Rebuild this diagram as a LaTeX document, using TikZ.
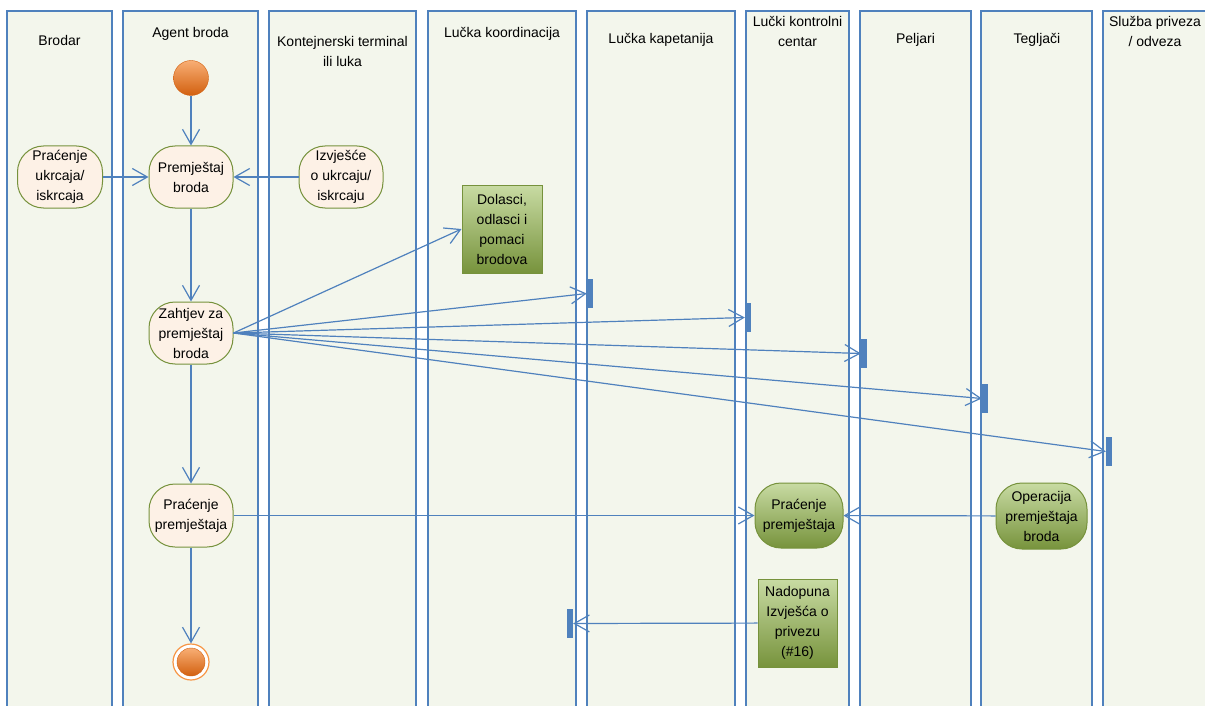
\documentclass[tikz,border=0pt]{standalone}
\usepackage{fontspec}
\setmainfont{Liberation Sans}
\usetikzlibrary{arrows.meta}
\definecolor{laneblue}{HTML}{4F81BD}
\definecolor{lanefill}{HTML}{F3F6EC}
\definecolor{peach}{HTML}{FDF1E6}
\definecolor{olive}{HTML}{76923C}
\definecolor{lightgreen}{HTML}{C8DBA3}
\definecolor{darkgreen}{HTML}{77933C}
\definecolor{lightorange}{HTML}{F8AE74}
\definecolor{darkorange}{HTML}{D2600F}
\definecolor{ringorange}{HTML}{F79646}
\begin{document}
\begin{tikzpicture}[x=1pt, y=-1pt,
    every node/.style={inner sep=0pt, text centered, font=\fontsize{14}{20}\selectfont},
    lane/.style={draw=laneblue, fill=lanefill, line width=1.2pt},
    title/.style={align=center},
    activity/.style={draw=olive, fill=peach, line width=1pt, rounded corners=26pt, align=center},
    greenactivity/.style={activity, top color=lightgreen, bottom color=darkgreen},
    object/.style={draw=olive, top color=lightgreen, bottom color=darkgreen, line width=1pt, align=center, minimum width=80pt, minimum height=88pt},
    state/.style={circle, draw=darkorange, top color=lightorange, bottom color=darkorange},
    bar/.style={fill=laneblue, minimum width=6pt, minimum height=29pt},
    flow/.style={draw=laneblue, line width=1.2pt, -{Straight Barb[length=15pt, width=17pt]}}]
\useasboundingbox (0,0) rectangle (1205,706);
\clip (0,0) rectangle (1205,706);

\draw[lane] (7,11) rectangle (112,720);
\draw[lane] (123,11) rectangle (258,720);
\draw[lane] (269,11) rectangle (416,720);
\draw[lane] (428,11) rectangle (576,720);
\draw[lane] (587,11) rectangle (735,720);
\draw[lane] (746,11) rectangle (849,720);
\draw[lane] (860,11) rectangle (971,720);
\draw[lane] (981,11) rectangle (1092,720);
\draw[lane] (1103,11) rectangle (1215,720);

\node[title] (tBrodar) at (59.5,40) {Brodar};
\node[title] (tAgent) at (190.5,34) {Agent broda};
\node[title] (tTerminal) at (342.5,51) {Kontejnerski terminal\\ili luka};
\node[title] (tKoord) at (502,34) {Lučka koordinacija};
\node[title] (tKap) at (661,40) {Lučka kapetanija};
\node[title] (tLkc) at (797.5,31) {Lučki kontrolni\\centar};
\node[title] (tPeljari) at (915.5,40) {Peljari};
\node[title] (tTegljaci) at (1037,40) {Tegljači};
\node[title] (tPrivez) at (1155,31) {Služba priveza\\/ odveza};

\node[state, minimum size=35pt] (start) at (191,78) {};
\node[activity, minimum width=85pt, minimum height=62pt] (pracenjeUkrcaja) at (60,177) {Praćenje\\ukrcaja/\\iskrcaja};
\node[activity, minimum width=84pt, minimum height=62pt] (premjestaj) at (191,177) {Premještaj\\broda};
\node[activity, minimum width=84pt, minimum height=62pt] (izvjesce) at (341,177) {Izvješće\\o ukrcaju/\\iskrcaju};
\node[activity, minimum width=84pt, minimum height=62pt] (zahtjev) at (191,333) {Zahtjev za\\premještaj\\broda};
\node[activity, minimum width=84pt, minimum height=63pt] (pracenje) at (191,515.5) {Praćenje\\premještaja};
\node[circle, draw=ringorange, fill=white, line width=1.2pt, minimum size=36pt] (kraj) at (191,662) {};
\node[state, minimum size=28pt] (krajIn) at (kraj) {};

\node[object] (dolasci) at (502,229) {Dolasci,\\odlasci i\\pomaci\\brodova};
\node[object, minimum width=79pt] (nadopuna) at (797.5,623) {Nadopuna\\Izvješća o\\privezu\\(\#16)};
\node[greenactivity, minimum width=88pt, minimum height=65pt] (pracenjeLkc) at (799,515.5) {Praćenje\\premještaja};
\node[greenactivity, minimum width=91pt, minimum height=66pt] (operacija) at (1041.5,516) {Operacija\\premještaja\\broda};

\node[bar] (kapetanija) at (590,293.5) {};
\node[bar] (kontrola) at (748,317.5) {};
\node[bar] (peljari) at (864,353.5) {};
\node[bar] (tegljaci) at (985,398.5) {};
\node[bar] (privez) at (1109,451.5) {};
\node[bar] (kapetanijaB) at (570,623.5) {};

\draw[flow] (start) -- (premjestaj);
\draw[flow] (pracenjeUkrcaja) -- (premjestaj);
\draw[flow] (izvjesce) -- (premjestaj);
\draw[flow] (premjestaj) -- (zahtjev);
\draw[flow] (zahtjev) -- (pracenje);
\draw[flow] (pracenje) -- (kraj);
\draw[flow] (zahtjev.east) -- (dolasci.west);
\draw[flow] (zahtjev.east) -- (kapetanija.west);
\draw[flow] (zahtjev.east) -- (kontrola.west);
\draw[flow] (zahtjev.east) -- (peljari.west);
\draw[flow] (zahtjev.east) -- (tegljaci.west);
\draw[flow] (zahtjev.east) -- (privez.west);
\draw[flow] (pracenje) -- (pracenjeLkc);
\draw[flow] (operacija) -- (pracenjeLkc);
\draw[flow] (nadopuna) -- (kapetanijaB);

\end{tikzpicture}
\end{document}
